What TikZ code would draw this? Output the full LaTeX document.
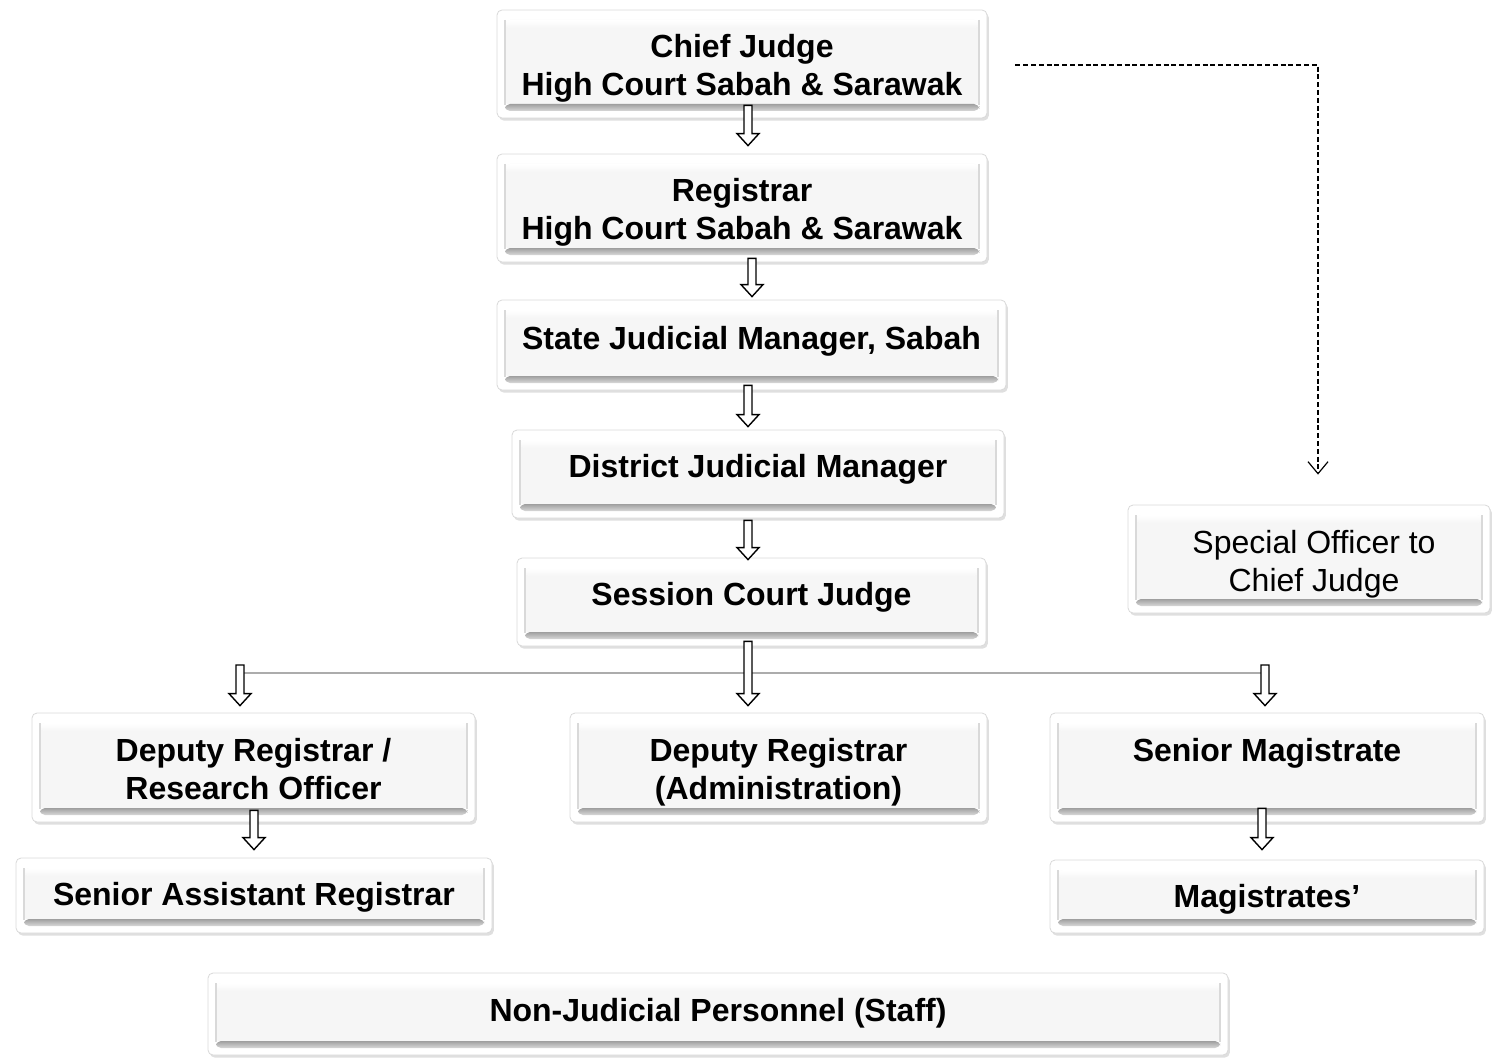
\documentclass[tikz,border=0pt]{standalone}
\usepackage{fontspec}
\setmainfont{Liberation Sans}
\usetikzlibrary{calc,shadows,arrows.meta}
\tikzset{
  x=0.5pt, y=-0.5pt,
  box/.style={draw=gray!30, line width=0.4pt, fill=white, rounded corners=2.5pt,
    drop shadow={shadow xshift=0.9pt, shadow yshift=-1.3pt, opacity=0.25, fill=gray},
    inner sep=0pt,
    path picture={
      \fill[gray!7] ([shift={(4pt,-5pt)}]path picture bounding box.north west)
        rectangle ([shift={(-4pt,6.5pt)}]path picture bounding box.south east);
      \fill[top color=white, bottom color=gray!7] ([shift={(4pt,-5pt)}]path picture bounding box.north west)
        rectangle ([shift={(-4pt,-9pt)}]path picture bounding box.north east);
      \draw[gray!30, line width=0.8pt] ([shift={(4pt,-5pt)}]path picture bounding box.north west)
        -- ([shift={(4pt,6.5pt)}]path picture bounding box.south west);
      \draw[gray!30, line width=0.8pt] ([shift={(-4pt,-5pt)}]path picture bounding box.north east)
        -- ([shift={(-4pt,6.5pt)}]path picture bounding box.south east);
      \fill[top color=gray!75, bottom color=gray!30] ([shift={(4pt,7pt)}]path picture bounding box.south west)
        rectangle ([shift={(-4pt,3.5pt)}]path picture bounding box.south east);
    }},
  txt/.style={align=center, inner sep=0pt, font=\bfseries\fontsize{16}{19}\selectfont},
  plaintxt/.style={txt, font=\fontsize{16}{19}\selectfont},
  hollow/.style={draw=black, fill=white, line width=0.7pt, line join=miter},
  hline/.style={draw=gray!65, line width=1pt},
  dashedarrow/.style={draw=black, line width=0.6pt, dash pattern=on 2.5pt off 1.4pt,
    -{Straight Barb[length=6pt,width=10pt,line width=0.6pt]}}
}
\newcommand\blockarrow[2]{\draw[hollow] let \p1=#1, \p2=#2 in
  (\x1-2pt,\y1) -- (\x1-2pt,\y2+6pt) -- (\x1-5.5pt,\y2+6pt) -- (\x1,\y2) --
  (\x1+5.5pt,\y2+6pt) -- (\x1+2pt,\y2+6pt) -- (\x1+2pt,\y1) -- cycle;}
\begin{document}
\begin{tikzpicture}
\useasboundingbox (0,0) rectangle (1502,1059);

\node[box, minimum width=245pt, minimum height=54pt] (cj) at (742,64) {};
\node[box, minimum width=245pt, minimum height=54pt] (reg) at (742,208) {};
\node[box, minimum width=254.5pt, minimum height=45pt] (sjm) at (751.5,345) {};
\node[box, minimum width=246pt, minimum height=44pt] (djm) at (758,474) {};
\node[box, minimum width=234.5pt, minimum height=44pt] (scj) at (751.5,602) {};
\node[box, minimum width=181pt, minimum height=54pt] (so) at (1309,559) {};
\node[box, minimum width=221.5pt, minimum height=54.5pt] (dr) at (253.5,767.5) {};
\node[box, minimum width=208.5pt, minimum height=54.5pt] (dra) at (778.5,767.5) {};
\node[box, minimum width=217pt, minimum height=54.5pt] (sm) at (1267,767.5) {};
\node[box, minimum width=238pt, minimum height=37.5pt] (sar) at (254,895.5) {};
\node[box, minimum width=217pt, minimum height=36.5pt] (mag) at (1267,896.5) {};
\node[box, minimum width=510pt, minimum height=41pt] (njp) at (718,1014) {};

\node[txt] (cjt) at ($(cj)+(0,4)$) {Chief Judge\\High Court Sabah \& Sarawak};
\node[txt] (regt) at ($(reg)+(0,4)$) {Registrar\\High Court Sabah \& Sarawak};
\node[txt] (sjmt) at ($(sjm)+(0,-4)$) {State Judicial Manager, Sabah};
\node[txt] (djmt) at ($(djm)+(0,-5)$) {District Judicial Manager};
\node[txt] (scjt) at ($(scj)+(0,-5)$) {Session Court Judge};
\node[plaintxt] (sot) at ($(so)+(5,5)$) {Special Officer to\\Chief Judge};
\node[txt] (drt) at ($(dr)+(0,1.5)$) {Deputy Registrar /\\Research Officer};
\node[txt] (drat) at ($(dra)+(0,5)$) {Deputy Registrar\\(Administration)};
\node[txt] (smt) at ($(sm)+(0,-14)$) {Senior Magistrate};
\node[txt] (sart) at ($(sar)+(0,2)$) {Senior Assistant Registrar};
\node[txt] (magt) at ($(mag)+(0,3)$) {Magistrates’};
\node[txt] (njpt) at ($(njp)+(0,-1)$) {Non-Judicial Personnel (Staff)};

\coordinate (hl) at (240,673);
\coordinate (hr) at (1265,673);
\draw[hline] (hl) -- (hr);

\blockarrow{($(cj.south)+(6,-13)$)}{($(reg.north)+(6,-8)$)}
\blockarrow{($(reg.south)+(10,-4)$)}{($(sjm.north)+(0.5,-3)$)}
\blockarrow{($(sjm.south)+(-3.5,-5)$)}{($(djm.north)+(-10,-3)$)}
\blockarrow{($(djm.south)+(-10,2)$)}{($(scj.north)+(-3.5,2)$)}
\blockarrow{($(scj.south)+(-3.5,-5)$)}{($(dra.north)+(-30.5,-7)$)}
\blockarrow{($(hl)+(0,-8)$)}{($(dr.north)+(-13.5,-7)$)}
\blockarrow{($(hr)+(0,-8)$)}{($(sm.north)+(-2,-7)$)}
\blockarrow{($(dr.south)+(0.5,-12)$)}{($(sar.north)+(0,-8)$)}
\blockarrow{($(sm.south)+(-5,-14)$)}{($(mag.north)+(-5,-10)$)}

\draw[dashedarrow] ($(cj.east)+(28,1)$) -| ($(so.north)+(9,-30)$);
\end{tikzpicture}
\end{document}
